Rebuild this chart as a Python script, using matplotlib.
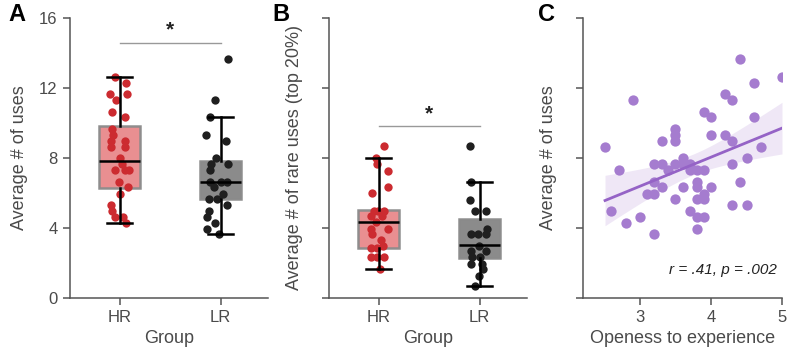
import numpy as np
import matplotlib
matplotlib.use("Agg")
import matplotlib.pyplot as plt

plt.rcParams['font.family'] = ['Liberation Sans', 'DejaVu Sans']
TXT = '#4a4a4a'

# ---------------- data ----------------
groups = ['HR', 'LR']

# Panel A: average # of uses
a_hr_vals = [12.65, 12.31, 11.66, 11.66, 11.32, 10.65, 10.32, 9.66, 9.31, 8.99, 8.99, 8.65, 8.65,
             7.98, 7.65, 7.31, 7.31, 7.31, 6.64, 6.32, 5.97, 5.31, 4.98, 4.64, 4.64, 4.31]
a_hr_jit = [-0.046, 0.069, -0.096, 0.076, -0.03, -0.073, 0.053, -0.073, -0.066, -0.089, 0.053, -0.089, 0.053,
            0.003, 0.02, -0.04, 0.059, 0.092, -0.007, 0.086, 0.003, -0.089, -0.073, -0.04, 0.036, 0.069]
a_lr_vals = [13.65, 11.32, 10.32, 9.31, 8.99, 7.98, 7.65, 7.65, 7.31, 6.64, 6.64, 6.64, 6.32, 5.97,
             5.65, 5.65, 5.31, 4.98, 4.64, 4.31, 3.97, 3.63]
a_lr_jit = [0.076, -0.059, -0.109, -0.139, 0.053, -0.04, -0.099, 0.073, -0.106, -0.109, 0.0, 0.066, -0.066, 0.023,
            -0.116, -0.033, 0.066, -0.116, -0.132, -0.056, -0.132, -0.017]
# box stats: whislo, q1, med, q3, whishi
a_hr_box = [4.31, 6.30, 7.82, 9.85, 12.65]
a_lr_box = [3.63, 5.63, 6.64, 7.84, 10.32]

# Panel B: average # of rare uses (top 20%)
b_hr_vals = [2.167, 2.0, 1.91, 1.82, 1.58, 1.50, 1.25, 1.25, 1.24, 1.17, 1.17, 1.09, 0.99, 0.99, 0.91,
             0.83, 0.75, 0.72, 0.72, 0.586, 0.586, 0.586, 0.42]
b_hr_jit = [0.05, -0.027, -0.01, 0.097, 0.097, -0.067, -0.043, -0.003, 0.05, -0.077, 0.033, -0.027, -0.077,
            0.097, -0.06, 0.023, 0.04, -0.077, -0.01, -0.077, -0.017, 0.05, 0.013]
b_lr_vals = [2.167, 1.657, 1.405, 1.243, 1.243, 0.99, 0.92, 0.92, 0.92, 0.74, 0.67, 0.67, 0.586, 0.586,
             0.49, 0.49, 0.42, 0.32, 0.167]
b_lr_jit = [-0.09, -0.08, -0.094, -0.04, 0.06, 0.077, -0.08, -0.013, 0.06, -0.007, -0.08, 0.06, -0.074, 0.0,
            -0.08, 0.02, 0.033, -0.007, -0.04]
b_hr_box = [0.419, 0.719, 1.086, 1.252, 2.0]
b_lr_box = [0.167, 0.576, 0.752, 1.133, 1.657]

# Panel C: openness vs average # of uses
c_open = [2.51, 2.60, 2.70, 2.80, 2.91, 3.00, 3.10, 3.20, 3.20, 3.20, 3.20, 3.31, 3.31, 3.31, 3.40,
          3.50, 3.50, 3.50, 3.50, 3.50, 3.61, 3.61, 3.61, 3.70, 3.70, 3.70, 3.80, 3.80, 3.80, 3.80,
          3.80, 3.80, 3.90, 3.90, 3.90, 3.90, 3.90, 4.00, 4.00, 4.00, 4.20, 4.20, 4.30, 4.30, 4.30,
          4.30, 4.41, 4.41, 4.51, 4.51, 4.61, 4.61, 4.70, 5.00]
c_uses = [8.65, 4.98, 7.31, 4.31, 11.32, 4.64, 5.97, 7.65, 6.64, 5.97, 3.63, 7.65, 8.99, 6.32, 7.31,
          9.66, 9.31, 8.99, 7.65, 5.65, 7.98, 7.65, 6.32, 7.65, 7.31, 4.98, 7.31, 6.64, 6.32, 5.65,
          4.64, 3.97, 10.65, 7.31, 5.97, 5.65, 4.64, 10.32, 9.31, 6.32, 11.66, 9.31, 11.32, 8.99, 7.65,
          5.31, 13.65, 6.64, 7.98, 5.31, 12.31, 10.32, 8.65, 12.65]
c_stat_text = 'r = .41, p = .002'

RED = '#cc2b30'
RED_BOX = '#e8898b'
DARK = '#1f1f1f'
GRAY_BOX = '#858585'
PURPLE = '#a57ccf'
PURPLE_LINE = '#9563c6'

fig = plt.figure(figsize=(7.94, 3.5), dpi=100)
W, H = 794, 350


def add_ax(l, r):
    return fig.add_axes([l / W, 1 - 298 / H, (r - l) / W, 280 / H])


def style(ax):
    for s in ['top', 'right']:
        ax.spines[s].set_visible(False)
    for s in ['left', 'bottom']:
        ax.spines[s].set_color('#555555')
        ax.spines[s].set_linewidth(1.1)
    ax.tick_params(direction='out', length=5, width=1.1, color='#555555',
                   labelcolor=TXT, labelsize=12, pad=4)


def box_panel(ax, hr_v, hr_j, lr_v, lr_j, hr_b, lr_b):
    stats = []
    for b in (hr_b, lr_b):
        stats.append(dict(whislo=b[0], q1=b[1], med=b[2], q3=b[3], whishi=b[4], fliers=[]))
    bp = ax.bxp(stats, positions=[0, 1], widths=0.4, patch_artist=True, showfliers=False,
                medianprops=dict(color='black', lw=1.8),
                whiskerprops=dict(color='black', lw=1.8),
                capprops=dict(color='black', lw=1.8), capwidths=0.25,
                boxprops=dict(lw=1.8))
    for patch, fc in zip(bp['boxes'], (RED_BOX, GRAY_BOX)):
        patch.set_facecolor(fc)
        patch.set_edgecolor('#8a8a8a')
        patch.set_alpha(0.95)
    for art in bp['whiskers'] + bp['caps'] + bp['medians']:
        art.set_zorder(4)
    ax.scatter(np.array(hr_j) + 0, hr_v, s=36, color=RED, zorder=3, linewidths=0)
    ax.scatter(np.array(lr_j) + 1, lr_v, s=36, color=DARK, zorder=3, linewidths=0)
    ax.set_xlim(-0.49, 1.47)
    ax.set_xticks([0, 1])
    ax.set_xticklabels(groups)
    ax.set_xlabel('Group', fontsize=13, color=TXT, labelpad=3)


# ---- Panel A ----
axA = add_ax(70, 268)
style(axA)
box_panel(axA, a_hr_vals, a_hr_jit, a_lr_vals, a_lr_jit, a_hr_box, a_lr_box)
axA.set_ylim(0, 16)
axA.set_yticks([0, 4, 8, 12, 16])
axA.set_ylabel('Average # of uses', fontsize=13, color=TXT, labelpad=8)
axA.plot([0, 1], [14.6, 14.6], color='#999999', lw=1)
axA.text(0.5, 14.75, '*', ha='center', va='bottom', fontsize=15, fontweight='bold', color='#222222')

# ---- Panel B ----
axB = add_ax(329, 527)
style(axB)
box_panel(axB, b_hr_vals, b_hr_jit, b_lr_vals, b_lr_jit, b_hr_box, b_lr_box)
axB.set_ylim(0, 4)
axB.set_yticks([0, 1, 2, 3, 4])
axB.set_yticklabels([])
axB.set_ylabel('Average # of rare uses (top 20%)', fontsize=13, color=TXT, labelpad=10)
axB.plot([0, 1], [2.457, 2.457], color='#999999', lw=1)
axB.text(0.5, 2.50, '*', ha='center', va='bottom', fontsize=15, fontweight='bold', color='#222222')

# ---- Panel C ----
axC = add_ax(583, 782)
style(axC)
x = np.array(c_open)
y = np.array(c_uses)
axC.scatter(x, y, s=55, color=PURPLE, zorder=3, linewidths=0)
n = len(x)
slope, intercept = np.polyfit(x, y, 1)
xs = np.linspace(x.min(), x.max(), 100)
ys = intercept + slope * xs
resid = y - (intercept + slope * x)
s_err = np.sqrt(np.sum(resid ** 2) / (n - 2))
t = 2.006
ci = t * s_err * np.sqrt(1 / n + (xs - x.mean()) ** 2 / np.sum((x - x.mean()) ** 2))
axC.fill_between(xs, ys - ci, ys + ci, color=PURPLE_LINE, alpha=0.15, linewidth=0, zorder=2)
axC.plot(xs, ys, color=PURPLE_LINE, lw=2, zorder=4)
axC.set_xlim(2.2, 5.0)
axC.set_xticks([3, 4, 5])
axC.set_ylim(0, 16)
axC.set_yticks([0, 4, 8, 12, 16])
axC.set_yticklabels([])
axC.set_ylabel('Average # of uses', fontsize=13, color=TXT, labelpad=10)
axC.set_xlabel('Openess to experience', fontsize=13, color=TXT, labelpad=3)
axC.text(0.975, 0.075, c_stat_text, transform=axC.transAxes, ha='right', va='bottom',
         fontsize=11, style='italic', color='#222222')

# panel letters
for lab, px in (('A', 8), ('B', 272), ('C', 538)):
    fig.text(px / W, 1 - 3 / H, lab, fontsize=17, fontweight='bold', va='top', ha='left', color='black')

fig.savefig('out.png', dpi=100)
